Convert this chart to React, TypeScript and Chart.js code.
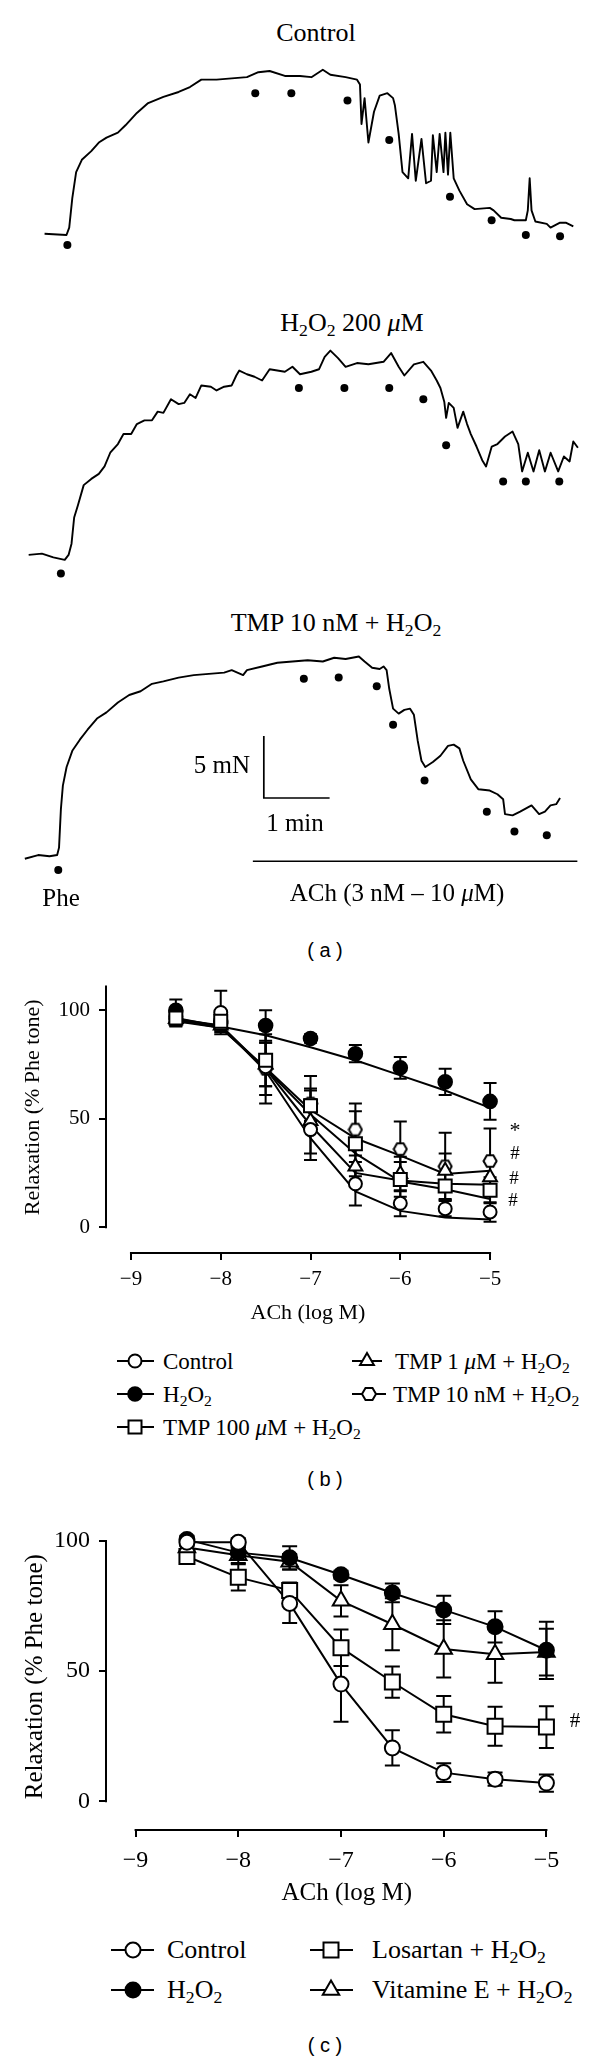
import React, { useEffect, useRef } from "react";
import { Chart, registerables } from "chart.js";

Chart.register(...registerables);

const SERIF = "'Liberation Serif', 'Times New Roman', serif";
const SANS = "'Liberation Sans', Arial, sans-serif";

type Pt = [number, number];

// ---------------- Panel (a): tension traces (time in s, force in mN) ----------------
const controlTrace: Pt[] = [
  [37, 1.8], [57, 1.7], [59.5, 2.3], [62.3, 4.7], [65.8, 6.8], [71, 7.8], [79.6, 8.5], [86.5, 9.2],
  [93.5, 9.6], [103.9, 10.0], [110.8, 10.6], [121.2, 11.6], [131.5, 12.4], [145.4, 12.9], [159.3, 13.3],
  [169.6, 13.7], [180, 14.3], [193.9, 14.3], [207.7, 14.4], [221.6, 14.5], [232, 14.9], [242.3, 15.0],
  [256.2, 14.6], [270, 14.6], [280.4, 14.5], [290.8, 15.1], [297.7, 14.7], [311.6, 14.5], [322, 14.3],
  [324.7, 13.9], [326.1, 10.7], [328.9, 12.8], [332.4, 9.2], [337.5, 11.7], [342.7, 13.0], [349.7, 13.2],
  [354.9, 12.8], [356.6, 12.2], [360, 9.9], [363.5, 6.8], [368.7, 6.3], [372.2, 9.9], [375.6, 6.1],
  [380.8, 9.5], [385, 5.9], [389.5, 6.1], [391.2, 9.8], [394.7, 6.8], [397.4, 9.9], [400.9, 6.8],
  [402.6, 10.0], [405, 6.6], [407.1, 10.0], [410.2, 6.3], [415.4, 5.3], [422.4, 4.2], [429.3, 3.8],
  [443.1, 3.9], [446.6, 3.7], [453.5, 3.1], [462.2, 3.0], [465.6, 2.9], [476, 2.9], [477.8, 3.7],
  [479.5, 6.3], [481.2, 3.7], [484.7, 2.8], [495.1, 2.6], [498.5, 2.3], [507.2, 2.7], [512.4, 2.7], [519.3, 2.4],
];
const controlDots: Pt[] = [
  [57.8, 0.9], [229.2, 13.2], [262.1, 13.2], [313.3, 12.6], [351.4, 9.4], [406.8, 4.8], [444.8, 2.9], [476, 1.7], [507.2, 1.6],
];

const h2o2Trace: Pt[] = [
  [22.5, 3.3], [34.6, 3.4], [45, 3.1], [55.4, 2.9], [58.9, 3.3], [61.6, 4.2], [64, 6.3], [67.5, 7.3],
  [72.7, 8.9], [79.6, 9.4], [86.5, 9.8], [91.7, 10.4], [96.9, 11.5], [103.9, 12.2], [109, 13.0], [116, 13.0],
  [121.2, 13.8], [128.1, 14.1], [135, 14.1], [140.2, 14.8], [145.4, 14.7], [152.3, 15.8], [159.3, 15.4],
  [164.4, 15.5], [169.6, 16.2], [174.8, 15.9], [180, 16.9], [188.7, 16.8], [193.9, 16.5], [200.8, 16.8],
  [207.7, 16.9], [211.9, 17.7], [214.6, 18.1], [221.6, 17.8], [228.5, 17.6], [235.4, 17.3], [242.3, 18.2],
  [249.3, 18.1], [256.2, 18.0], [263.1, 18.4], [270, 17.8], [280.4, 18.0], [287.3, 18.2], [292.5, 19.2],
  [297.7, 19.7], [304.7, 19.1], [311.6, 18.4], [322, 18.7], [332.4, 18.6], [346.2, 18.8], [353.1, 19.5],
  [360, 18.4], [365.2, 17.7], [373.9, 18.6], [382.5, 18.8], [389.5, 18.1], [394.7, 17.3], [398.1, 16.7],
  [401.6, 15.6], [403.3, 14.3], [405.7, 15.5], [410.2, 15.1], [413.7, 13.5], [418.9, 14.8], [422.4, 13.8],
  [425.8, 13.0], [431, 12.0], [436.2, 10.9], [439.7, 10.4], [444.9, 12.0], [450.1, 12.2], [457, 12.8],
  [463.9, 13.2], [469.1, 12.2], [472.6, 10.0], [477.8, 11.5], [483, 10.0], [488.2, 11.7], [493.4, 10.0],
  [498.6, 11.5], [505.5, 10.0], [510.7, 11.2], [515.9, 10.8], [519.3, 12.4], [523.5, 11.9],
];
const h2o2Dots: Pt[] = [
  [51.9, 1.8], [269, 16.7], [310.5, 16.7], [351.4, 16.7], [382.5, 15.8], [403.3, 12.1], [455.3, 9.2], [476, 9.2], [506.5, 9.2],
];

const tmpTrace: Pt[] = [
  [19, 3.0], [31.2, 3.3], [41.5, 3.2], [48.5, 3.3], [50.2, 3.9], [51.9, 7.0], [53.7, 8.9], [57.1, 10.4],
  [62.3, 11.7], [69.2, 12.6], [76.2, 13.4], [84.8, 14.3], [93.5, 14.8], [103.9, 15.6], [114.2, 16.2],
  [124.6, 16.5], [135, 17.1], [145.4, 17.3], [159.3, 17.6], [173.1, 17.8], [186.9, 17.9], [200.8, 18.0],
  [207.7, 18.2], [218.1, 17.8], [221.6, 18.2], [235.4, 18.5], [249.3, 18.8], [263.1, 18.9], [277, 19.0],
  [290.8, 18.9], [301.2, 19.2], [311.6, 19.1], [323.7, 19.3], [328.9, 18.9], [335.8, 18.4], [342.7, 18.3],
  [346.2, 18.5], [349, 18.2], [351.4, 16.7], [354.9, 15.1], [360, 14.7], [365.2, 15.0], [370.4, 15.1],
  [373.9, 14.6], [377.4, 12.5], [380.8, 10.9], [384.3, 10.4], [391.2, 10.8], [398.1, 11.3], [405, 12.1],
  [410.2, 12.2], [415.4, 11.9], [418.9, 10.9], [425.8, 9.4], [432.8, 8.6], [443.1, 8.5], [450.1, 8.2],
  [455.3, 7.8], [457, 6.6], [463.9, 6.5], [470.8, 6.8], [481.2, 7.3], [488.1, 6.6], [493.4, 6.8],
  [498.5, 7.3], [503.7, 7.4], [507.2, 7.9],
];
const tmpDots: Pt[] = [
  [49.5, 2.1], [273.5, 17.5], [305.3, 17.6], [340, 16.9], [354.9, 13.8], [383.6, 9.3], [440.4, 6.8], [465.6, 5.2], [495.1, 4.9],
];

// scale bar (5 mN, 1 min) and ACh application bar, in trace units
const scaleBarT = 237;
const scaleBarF = 7.9;
const scaleBarMN = 5;
const scaleBarSec = 60;
const achStartT = 227;
const achEndT = 523;
const achBarF = 2.8;

// ---------------- Panels (b) and (c): concentration-response ----------------
const logAch = [-8.5, -8, -7.5, -7, -6.5, -6, -5.5, -5];
const xTickValues = [-9, -8, -7, -6, -5];
const yTickValues = [0, 50, 100];

// (b)
const bControl = [97, 99, 74, 45, 20, 11, 8.5, 7];
const bControlErr = [3, 10, 17, 14, 10, 6, 3.5, 4.5];
const bControlFit = [95, 93, 72, 41, 16.5, 7.5, 4.5, 3.5];
const bH2O2 = [100, 95, 93, 87, 80, 73.5, 67, 58];
const bH2O2Err = [5, 3, 7, 2, 4, 5, 6, 8.5];
const bH2O2Fit = [96.5, 92.5, 88.5, 83, 77, 70, 63, 55];
const bTmp100uM = [96.5, 95, 77, 56, 38.5, 22, 19, 17];
const bTmp100uMErr = [4, 4, 12, 7, 15, 8, 6, 6];
const bTmp100uMFit = [96, 93, 73, 52, 34, 21, 17.5, 13];
const bTmp1uM = [96, 93, 75, 49, 28, 24.5, 26, 23];
const bTmp1uMErr = [3, 3, 10, 15, 8, 8, 8, 7];
const bTmp1uMFit = [95, 92, 73, 47, 25, 21.5, 20, 19.5];
const bTmp10nM = [96, 94, 73, 57, 45, 36, 28, 30.5];
const bTmp10nMErr = [3, 3, 12, 12.7, 12, 12.7, 15.5, 15];
const bTmp10nMFit = [95.5, 92, 73.5, 54, 41, 33, 24.5, 26];

// (c)
const cControl = [99.5, 99.5, 76, 45, 20.5, 11, 8.5, 7];
const cControlErr = [1.5, 1.5, 7.5, 14.5, 6.8, 3.6, 2.5, 3.3];
const cH2O2 = [100.5, 95.5, 93.5, 87, 80, 73.5, 67, 58];
const cH2O2Err = [1.5, 2, 4.5, 1.5, 3.6, 5.4, 6, 11];
const cLosartan = [94, 86, 81, 59, 45.8, 33.4, 28.8, 28.5];
const cLosartanErr = [1.5, 5, 3, 7, 6, 7, 7.5, 8];
const cVitE = [97.5, 94.5, 92, 77, 68, 58.5, 56.5, 57.3];
const cVitEErr = [1.5, 3, 3, 6, 10, 11, 11, 9];

// ---------------- helpers ----------------
const toXY = (arr: Pt[]) => arr.map(([x, y]) => ({ x, y }));
const zipXY = (ys: number[]) => logAch.map((x, i) => ({ x, y: ys[i] }));

function makeHexagon(size: number, lw: number) {
  const c = document.createElement("canvas");
  c.width = size;
  c.height = size;
  const g = c.getContext("2d")!;
  const r = size / 2 - lw / 2 - 0.5;
  g.beginPath();
  for (let i = 0; i < 6; i++) {
    const a = (i * Math.PI) / 3;
    g.lineTo(size / 2 + r * Math.cos(a), size / 2 + r * Math.sin(a));
  }
  g.closePath();
  g.fillStyle = "#fff";
  g.fill();
  g.lineWidth = lw;
  g.strokeStyle = "#000";
  g.stroke();
  return c;
}

const traceBarsPlugin = {
  id: "traceBars",
  afterDatasetsDraw(chart: any) {
    const { ctx } = chart;
    const xs = chart.scales.x;
    const ys = chart.scales.y;
    ctx.save();
    ctx.strokeStyle = "#000";
    ctx.lineWidth = 1.7;
    const x0 = xs.getPixelForValue(scaleBarT);
    const y0 = ys.getPixelForValue(scaleBarF);
    ctx.beginPath();
    ctx.moveTo(x0, ys.getPixelForValue(scaleBarF + scaleBarMN));
    ctx.lineTo(x0, y0);
    ctx.lineTo(xs.getPixelForValue(scaleBarT + scaleBarSec), y0);
    ctx.stroke();
    const ya = ys.getPixelForValue(achBarF);
    ctx.beginPath();
    ctx.moveTo(xs.getPixelForValue(achStartT), ya);
    ctx.lineTo(xs.getPixelForValue(achEndT), ya);
    ctx.stroke();
    ctx.restore();
  },
};

function TraceChart({ top, height, yMax, trace, dots, bars }: any) {
  const ref = useRef<HTMLCanvasElement>(null);
  useEffect(() => {
    const chart = new Chart(ref.current!, {
      type: "line",
      data: {
        datasets: [
          {
            data: toXY(dots),
            showLine: false,
            pointRadius: 4,
            pointStyle: "circle",
            pointBackgroundColor: "#000",
            pointBorderWidth: 0,
            clip: false,
          } as any,
          {
            data: toXY(trace),
            borderColor: "#000",
            borderWidth: 1.9,
            pointRadius: 0,
            tension: 0,
            borderJoinStyle: "round",
            clip: false,
          } as any,
        ],
      },
      options: {
        responsive: false,
        animation: false,
        events: [],
        layout: { padding: 0 },
        plugins: { legend: { display: false }, tooltip: { enabled: false } },
        scales: {
          x: { type: "linear", display: false, min: 0, max: 540 },
          y: { type: "linear", display: false, min: 0, max: yMax },
        },
      },
      plugins: bars ? [traceBarsPlugin] : [],
    } as any);
    return () => chart.destroy();
  }, []);
  return (
    <canvas
      ref={ref}
      width={600}
      height={height}
      style={{ position: "absolute", left: 0, top, display: "block" }}
    />
  );
}

const errorBarsPlugin = {
  id: "errorBars",
  beforeDatasetsDraw(chart: any, _args: any, opts: any) {
    const { ctx } = chart;
    const xs = chart.scales.x;
    const ys = chart.scales.y;
    const cap = opts.cap || 6;
    ctx.save();
    ctx.strokeStyle = "#000";
    ctx.lineWidth = 2;
    chart.data.datasets.forEach((ds: any) => {
      if (!ds.errorBars) return;
      ds.data.forEach((p: any, i: number) => {
        const e = ds.errorBars[i];
        if (!e) return;
        const px = xs.getPixelForValue(p.x);
        const yt = ys.getPixelForValue(p.y + e);
        const yb = ys.getPixelForValue(p.y - e);
        ctx.beginPath();
        ctx.moveTo(px, yt);
        ctx.lineTo(px, yb);
        ctx.moveTo(px - cap, yt);
        ctx.lineTo(px + cap, yt);
        ctx.moveTo(px - cap, yb);
        ctx.lineTo(px + cap, yb);
        ctx.stroke();
      });
    });
    ctx.restore();
  },
};

const detachedAxesPlugin = {
  id: "detachedAxes",
  afterDraw(chart: any, _args: any, opts: any) {
    const { ctx, chartArea } = chart;
    const xs = chart.scales.x;
    const ys = chart.scales.y;
    ctx.save();
    ctx.strokeStyle = "#000";
    ctx.lineWidth = 2;
    ctx.lineCap = "square";
    ctx.beginPath();
    ctx.moveTo(chartArea.left, ys.getPixelForValue(opts.yFrom));
    ctx.lineTo(chartArea.left, ys.getPixelForValue(opts.yTo));
    ctx.moveTo(xs.getPixelForValue(opts.xFrom), chartArea.bottom);
    ctx.lineTo(xs.getPixelForValue(opts.xTo), chartArea.bottom);
    ctx.stroke();
    ctx.restore();
  },
};

const minusFmt = (v: any) => String(v).replace("-", "\u2212");

function DoseChart({ cfg, series }: any) {
  const ref = useRef<HTMLCanvasElement>(null);
  useEffect(() => {
    const markerSets: any[] = [];
    const lineSets: any[] = [];
    series.forEach((s: any) => {
      const style = s.marker === "hex" ? makeHexagon(s.hexSize, 2) : s.marker;
      markerSets.push({
        data: zipXY(s.mean),
        showLine: false,
        pointStyle: style,
        pointRadius: s.r,
        pointBackgroundColor: s.fill,
        pointBorderColor: "#000",
        pointBorderWidth: 2,
        errorBars: s.err,
        order: 1,
        clip: false,
      });
      lineSets.push({
        data: zipXY(s.line),
        borderColor: "#000",
        borderWidth: 2,
        pointRadius: 0,
        tension: 0,
        order: 2,
        clip: false,
      });
    });
    const tickFont = { family: SERIF, size: cfg.tickSize };
    const titleFont = { family: SERIF, size: cfg.titleSize };
    const gridCfg = {
      display: true,
      drawOnChartArea: false,
      drawTicks: true,
      tickLength: 7,
      color: "#000",
      lineWidth: 2,
    };
    const chart = new Chart(ref.current!, {
      type: "line",
      data: { datasets: [...markerSets, ...lineSets] },
      options: {
        responsive: false,
        animation: false,
        events: [],
        layout: { padding: { top: cfg.padTop, right: cfg.padRight, left: 0, bottom: 0 } },
        plugins: {
          legend: { display: false },
          tooltip: { enabled: false },
          errorBars: { cap: cfg.cap },
          detachedAxes: { yFrom: 0, yTo: cfg.yAxisTop, xFrom: -9, xTo: -5 },
        },
        scales: {
          x: {
            type: "linear",
            min: cfg.xMin,
            max: cfg.xMax,
            afterBuildTicks: (s: any) => {
              s.ticks = xTickValues.map((v) => ({ value: v }));
            },
            afterFit: (s: any) => {
              s.height = cfg.xScaleH;
            },
            border: { display: false },
            grid: gridCfg,
            ticks: {
              color: "#000",
              font: tickFont,
              padding: cfg.xTickPad,
              autoSkip: false,
              maxRotation: 0,
              callback: minusFmt,
            },
            title: {
              display: true,
              text: "ACh (log M)",
              color: "#000",
              font: titleFont,
              padding: { top: 0, bottom: cfg.xTitlePadB },
            },
          },
          y: {
            type: "linear",
            min: cfg.yMin,
            max: cfg.yMax,
            afterBuildTicks: (s: any) => {
              s.ticks = yTickValues.map((v) => ({ value: v }));
            },
            afterFit: (s: any) => {
              s.width = cfg.yAxisW;
            },
            border: { display: false },
            grid: gridCfg,
            ticks: {
              color: "#000",
              font: tickFont,
              padding: cfg.yTickPad,
              autoSkip: false,
              callback: minusFmt,
            },
            title: {
              display: true,
              text: "Relaxation (% Phe tone)",
              color: "#000",
              font: titleFont,
              padding: { top: cfg.yTitlePadT, bottom: 0 },
            },
          },
        },
      },
      plugins: [errorBarsPlugin, detachedAxesPlugin],
    } as any);
    return () => chart.destroy();
  }, []);
  return (
    <canvas
      ref={ref}
      width={600}
      height={cfg.canvasH}
      style={{ position: "absolute", left: 0, top: cfg.canvasTop, display: "block" }}
    />
  );
}

const panelB = {
  canvasTop: 940, canvasH: 400, xMin: -9.278, xMax: -4.778, yMin: -11.93, yMax: 122.48,
  padTop: 20, padRight: 90, yAxisW: 106, xScaleH: 87, tickSize: 21, titleSize: 22,
  xTickPad: 7, yTickPad: 9, xTitlePadB: 14, yTitlePadT: 20, yAxisTop: 111, cap: 6.5,
};
const panelC = {
  canvasTop: 1500, canvasH: 420, xMin: -9.288, xMax: -4.601, yMin: -11.04, yMax: 106.73,
  padTop: 10, padRight: 6.5, yAxisW: 106, xScaleH: 90, tickSize: 24, titleSize: 25,
  xTickPad: 9, yTickPad: 9, xTitlePadB: 12, yTitlePadT: 20, yAxisTop: 100, cap: 7.5,
};

const seriesB = [
  { mean: bTmp100uM, err: bTmp100uMErr, line: bTmp100uMFit, marker: "rect", r: 9.2, fill: "#fff" },
  { mean: bControl, err: bControlErr, line: bControlFit, marker: "circle", r: 6.5, fill: "#fff" },
  { mean: bTmp1uM, err: bTmp1uMErr, line: bTmp1uMFit, marker: "triangle", r: 8, fill: "#fff" },
  { mean: bTmp10nM, err: bTmp10nMErr, line: bTmp10nMFit, marker: "hex", hexSize: 16, r: 7, fill: "#fff" },
  { mean: bH2O2, err: bH2O2Err, line: bH2O2Fit, marker: "circle", r: 6.8, fill: "#000" },
];
const seriesC = [
  { mean: cControl, err: cControlErr, line: cControl, marker: "circle", r: 7.5, fill: "#fff" },
  { mean: cH2O2, err: cH2O2Err, line: cH2O2, marker: "circle", r: 7.5, fill: "#000" },
  { mean: cVitE, err: cVitEErr, line: cVitE, marker: "triangle", r: 9.5, fill: "#fff" },
  { mean: cLosartan, err: cLosartanErr, line: cLosartan, marker: "rect", r: 10.6, fill: "#fff" },
];

// ---------------- HTML text helpers ----------------
function Txt({ x, y, size, align = "center", family = SERIF, children }: any) {
  const tx = align === "center" ? "-50%" : align === "right" ? "-100%" : "0";
  return (
    <div
      style={{
        position: "absolute",
        left: x,
        top: y,
        transform: `translate(${tx}, -50%)`,
        fontFamily: family,
        fontSize: size,
        lineHeight: 1,
        whiteSpace: "nowrap",
        color: "#000",
      }}
    >
      {children}
    </div>
  );
}
const Sub = ({ children }: any) => (
  <sub style={{ fontSize: "0.68em", verticalAlign: "-0.28em", lineHeight: 0 }}>{children}</sub>
);
const H2O2 = () => (
  <>
    H<Sub>2</Sub>O<Sub>2</Sub>
  </>
);
const Mu = () => <i>μ</i>;

function Mark({ kind, cx, cy, r, fill }: any) {
  const common = { fill, stroke: "#000", strokeWidth: 2 };
  if (kind === "circle") return <circle cx={cx} cy={cy} r={r} {...common} />;
  if (kind === "rect") {
    const h = r * Math.SQRT1_2;
    return <rect x={cx - h} y={cy - h} width={2 * h} height={2 * h} {...common} />;
  }
  if (kind === "triangle") {
    const pts = `${cx},${cy - r} ${cx + 0.866 * r},${cy + r / 2} ${cx - 0.866 * r},${cy + r / 2}`;
    return <polygon points={pts} {...common} />;
  }
  const pts = [0, 1, 2, 3, 4, 5]
    .map((i) => `${cx + r * Math.cos((i * Math.PI) / 3)},${cy + r * Math.sin((i * Math.PI) / 3)}`)
    .join(" ");
  return <polygon points={pts} {...common} />;
}

function LegendItem({ x1, x2, cx, y, kind, r, fill, tx, size, children }: any) {
  const left = x1 - 2;
  const w = x2 - x1 + 4;
  return (
    <>
      <svg
        width={w}
        height={30}
        style={{ position: "absolute", left, top: y - 15, overflow: "visible" }}
      >
        <line x1={2} y1={15} x2={w - 2} y2={15} stroke="#000" strokeWidth={2} />
        <Mark kind={kind} cx={cx - left} cy={15} r={r} fill={fill} />
      </svg>
      <Txt x={tx} y={y} size={size} align="left">
        {children}
      </Txt>
    </>
  );
}

export default function App() {
  return (
    <div
      style={{
        position: "absolute",
        left: 0,
        top: 0,
        width: 600,
        height: 2060,
        background: "#fff",
        overflow: "hidden",
      }}
    >
      {/* ---------- (a) ---------- */}
      <Txt x={316} y={33} size={26}>Control</Txt>
      <TraceChart top={40} height={220} yMax={17.19} trace={controlTrace} dots={controlDots} />

      <Txt x={352} y={323} size={26}>
        <H2O2 /> 200 <Mu />M
      </Txt>
      <TraceChart top={300} height={300} yMax={23.44} trace={h2o2Trace} dots={h2o2Dots} />

      <Txt x={336} y={623} size={26}>
        TMP 10 nM + <H2O2 />
      </Txt>
      <TraceChart top={640} height={260} yMax={20.31} trace={tmpTrace} dots={tmpDots} bars />
      <Txt x={250} y={764} size={25} align="right">5 mN</Txt>
      <Txt x={295} y={822} size={25}>1 min</Txt>
      <Txt x={397} y={892} size={25}>
        ACh (3 nM – 10 <Mu />M)
      </Txt>
      <Txt x={61} y={897} size={25}>Phe</Txt>
      <Txt x={325} y={950} size={20} family={SANS}>( a )</Txt>

      {/* ---------- (b) ---------- */}
      <DoseChart cfg={panelB} series={seriesB} />
      <Txt x={515} y={1130} size={22}>*</Txt>
      <Txt x={515} y={1152} size={19}>#</Txt>
      <Txt x={514} y={1177} size={19}>#</Txt>
      <Txt x={513} y={1199} size={19}>#</Txt>

      <LegendItem x1={117} x2={154} cx={135} y={1361} kind="circle" r={6.5} fill="#fff" tx={163} size={23}>
        Control
      </LegendItem>
      <LegendItem x1={117} x2={154} cx={135} y={1394} kind="circle" r={6.8} fill="#000" tx={163} size={23}>
        <H2O2 />
      </LegendItem>
      <LegendItem x1={117} x2={154} cx={135} y={1427} kind="rect" r={9.2} fill="#fff" tx={163} size={23}>
        TMP 100 <Mu />M + <H2O2 />
      </LegendItem>
      <LegendItem x1={352} x2={382} cx={367} y={1361} kind="triangle" r={8} fill="#fff" tx={395} size={23}>
        TMP 1 <Mu />M + <H2O2 />
      </LegendItem>
      <LegendItem x1={352} x2={386} cx={369} y={1394} kind="hex" r={7} fill="#fff" tx={393} size={23}>
        TMP 10 nM + <H2O2 />
      </LegendItem>
      <Txt x={325} y={1479} size={20} family={SANS}>( b )</Txt>

      {/* ---------- (c) ---------- */}
      <DoseChart cfg={panelC} series={seriesC} />
      <Txt x={575} y={1720} size={21}>#</Txt>

      <LegendItem x1={111} x2={154} cx={133} y={1950} kind="circle" r={7.5} fill="#fff" tx={167} size={26}>
        Control
      </LegendItem>
      <LegendItem x1={111} x2={154} cx={133} y={1990} kind="circle" r={7.5} fill="#000" tx={167} size={26}>
        <H2O2 />
      </LegendItem>
      <LegendItem x1={310} x2={353} cx={331} y={1950} kind="rect" r={10.6} fill="#fff" tx={372} size={26}>
        Losartan + <H2O2 />
      </LegendItem>
      <LegendItem x1={310} x2={353} cx={331} y={1990} kind="triangle" r={9.5} fill="#fff" tx={372} size={26}>
        Vitamine E + <H2O2 />
      </LegendItem>
      <Txt x={325} y={2045} size={20} family={SANS}>( c )</Txt>
    </div>
  );
}
